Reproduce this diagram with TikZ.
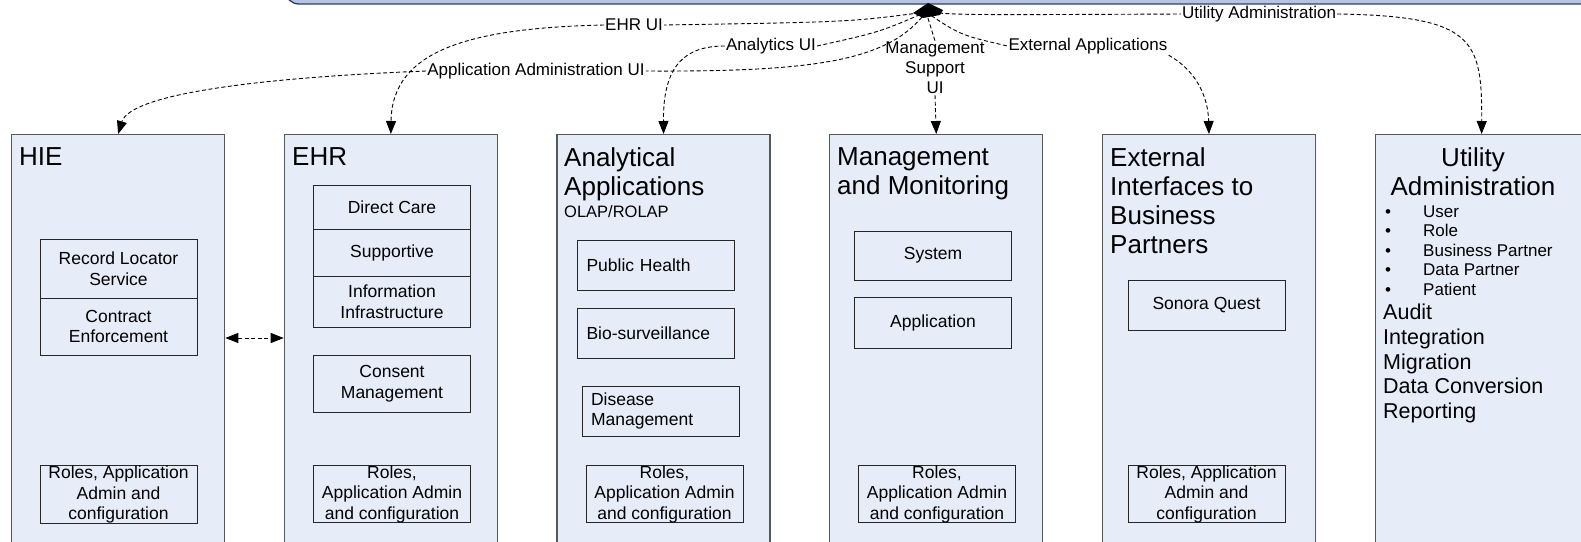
\documentclass[tikz,border=0pt]{standalone}
\usepackage{fontspec}
\setmainfont{Liberation Sans}
\usetikzlibrary{arrows.meta, positioning}
\usepackage{xcolor}
\definecolor{colfill}{RGB}{230,236,248}
\definecolor{colborder}{RGB}{88,88,88}
\definecolor{barfill}{RGB}{180,196,226}
\definecolor{barborder}{RGB}{50,65,95}
\newcommand{\titlefont}{\fontsize{26}{29}\selectfont}
\newcommand{\partfont}{\fontsize{17.5}{20.5}\selectfont}
\newcommand{\linkfont}{\fontsize{17}{20}\selectfont}
\newcommand{\listfont}{\fontsize{17}{19.6}\selectfont}
\newcommand{\itemfont}{\fontsize{21.5}{24.7}\selectfont}

\begin{document}
\begin{tikzpicture}[x=1pt, y=-1pt, >={Triangle[length=13pt,width=10pt]}, node distance=0pt]
    \tikzstyle{column}=[rectangle, draw=colborder, fill=colfill, line width=1.3pt, minimum width=213pt, minimum height=460pt, anchor=north west, inner sep=0pt]
    \tikzstyle{title}=[anchor=north west, align=left, font=\titlefont, inner sep=0pt]
    \tikzstyle{part}=[rectangle, draw=black!85, line width=1pt, minimum width=157pt, align=center, font=\partfont, inner sep=0pt, outer sep=0pt]
    \tikzstyle{link}=[draw=black, dash pattern=on 4pt off 2.5pt, line width=0.9pt, ->]
    \tikzstyle{linklabel}=[font=\linkfont, inner sep=1pt, align=center]

    \useasboundingbox (0,0) rectangle (1581,541);
    \clip (0,0) rectangle (1581,541);

    % top bar
    \draw[barborder, fill=barfill, line width=1.3pt, rounded corners=14pt] (285,-40) rectangle (1610,4);

    % the six columns
    \foreach \name/\x in {HIE/11, EHR/283.7, ANA/556.4, MAN/829.1, EXT/1101.8, UTIL/1374.5}
        \node[column] (\name) at (\x,134) {};

    % column titles
    \node[title] (hieT) at (19,147) {HIE};
    \node[title] (ehrT) at (292,147) {EHR};
    \node[title] (anaT) at (564,147) {Analytical\\Applications};
    \node[anchor=base west, inner sep=0pt, font=\fontsize{16.5}{19}\selectfont] (anaSub) at (564,217) {OLAP/ROLAP};
    \node[title] (manT) at (837,147) {Management\\and Monitoring};
    \node[title] (extT) at (1110,147) {External\\Interfaces to\\Business\\Partners};
    \node[title, anchor=north, align=center] (utilT) at (1473,147) {Utility\\Administration};

    % HIE parts
    \node[part, minimum height=59pt] (rls) at (118.5,268.5) {Record Locator\\Service};
    \node[part, minimum height=57pt, below=of rls] (contract) {Contract\\Enforcement};

    % EHR parts
    \node[part, minimum height=44pt] (care) at (392,207) {Direct Care};
    \node[part, minimum height=47pt, below=of care] (support) {Supportive};
    \node[part, minimum height=51pt, below=of support] (infra) {Information\\Infrastructure};
    \node[part, minimum height=57pt] (consent) at (392,383.5) {Consent\\Management};

    % Analytical parts
    \node[part, minimum height=50pt, text width=139pt, align=left] (health) at (656,265) {Public Health};
    \node[part, minimum height=50pt, text width=139pt, align=left] (bio) at (656,333) {Bio-surveillance};
    \node[part, minimum height=50pt, text width=139pt, align=left] (disease) at (660.5,411) {Disease\\Management};

    % Management parts
    \node[part, minimum height=49pt] (system) at (933,255.5) {System};
    \node[part, minimum height=51pt] (appl) at (933,322.5) {Application};

    % External parts
    \node[part, minimum height=50pt] (sonora) at (1206.5,305) {Sonora Quest};

    % roles boxes
    \node[part, minimum height=57pt] (hieRoles) at (118.5,494.5) {Roles, Application\\Admin and\\configuration};
    \node[part, minimum height=56pt] (ehrRoles) at (392,494) {Roles,\\Application Admin\\and configuration};
    \node[part, minimum height=56pt] (anaRoles) at (664.5,494) {Roles,\\Application Admin\\and configuration};
    \node[part, minimum height=56pt] (manRoles) at (937,494) {Roles,\\Application Admin\\and configuration};
    \node[part, minimum height=56pt] (extRoles) at (1206.5,494) {Roles, Application\\Admin and\\configuration};

    % utility list
    \foreach \i/\item in {0/User, 1/Role, 2/Business Partner, 3/Data Partner, 4/Patient} {
        \node[anchor=base, inner sep=0pt, font=\listfont] (bullet-\i) at (1388,217+19.6*\i) {\textbullet};
        \node[anchor=base west, inner sep=0pt, font=\listfont] (util-\i) at (1423,217+19.6*\i) {\item};
    }
    \node[anchor=north west, align=left, inner sep=0pt, font=\itemfont] (utilList) at (1383,304) {Audit\\Integration\\Migration\\Data Conversion\\Reporting};

    % hub and interface links
    \fill[black] (913,13) -- (928,3) -- (943,10) -- (940,15) -- (923,18) -- cycle;
    \coordinate (hub) at (926,12);

    \node[linklabel] (ehrUI) at (634,25) {EHR UI};
    \node[linklabel] (anaUI) at (771,46) {Analytics UI};
    \node[linklabel] (appUI) at (536,71) {Application Administration UI};
    \node[linklabel] (manUI) at (935,68) {Management\\Support\\UI};
    \node[linklabel] (extUI) at (1088,46) {External Applications};
    \node[linklabel] (utilUI) at (1259,14) {Utility Administration};

    \draw[link, -] (hub) .. controls (850,22) .. (ehrUI.east);
    \draw[link] (ehrUI.west) .. controls (470,28) and (392,50) .. (EHR.north);
    \draw[link, -] (hub) .. controls (880,32) .. (anaUI.east);
    \draw[link] (anaUI.west) .. controls (685,46) and (663,65) .. (ANA.north);
    \draw[link, -] (hub) .. controls (890,60) and (820,72) .. (appUI.east);
    \draw[link] (appUI.west) .. controls (250,78) and (130,95) .. (HIE.north);
    \draw[link, -] (hub) -- (manUI.north);
    \draw[link] (manUI.south) -- (MAN.north);
    \draw[link, -] (hub) .. controls (960,35) .. (extUI.west);
    \draw[link] (extUI.south east) .. controls (1195,70) and (1208,95) .. (EXT.north);
    \draw[link, -] (hub) .. controls (960,15) .. (utilUI.west);
    \draw[link] (utilUI.east) .. controls (1475,16) and (1482,40) .. (UTIL.north);

    % HIE <-> EHR
    \draw[link, <->] (HIE.east |- 0,338) -- (EHR.west |- 0,338);
\end{tikzpicture}
\end{document}
